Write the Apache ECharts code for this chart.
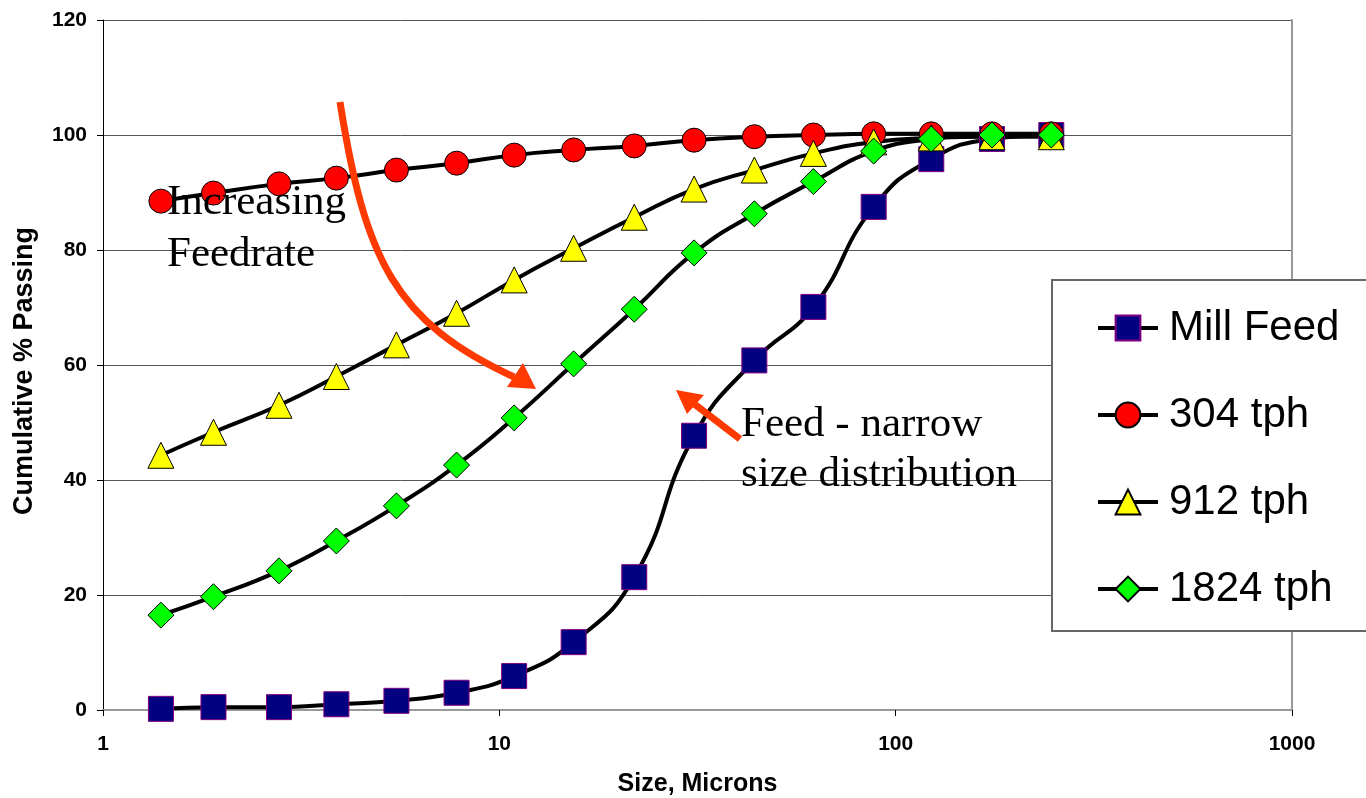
<!DOCTYPE html>
<html>
<head>
<meta charset="utf-8">
<script src="https://cdn.jsdelivr.net/npm/echarts@6/dist/echarts.min.js"></script>
<style>
html,body{margin:0;padding:0;background:#fff;overflow:hidden;}
#chart{width:1366px;height:798px;}
</style>
</head>
<body>
<div id="chart"></div>
<script>
// ---- data ----
const sizes = [1.4, 1.9, 2.78, 3.88, 5.5, 7.8, 10.9, 15.4, 21.9, 31, 44, 62, 88, 123, 175, 247];
const millFeed = [0.2, 0.5, 0.5, 1.0, 1.6, 3.0, 5.9, 11.8, 23.1, 47.7, 60.8, 70.1, 87.5, 95.8, 99.3, 100];
const tph304   = [88.5, 89.9, 91.5, 92.5, 93.9, 95.1, 96.5, 97.4, 98.1, 99.1, 99.7, 100, 100.2, 100.2, 100.2, 100.2];
const tph912   = [44.3, 48.3, 53.0, 58.0, 63.5, 69.0, 74.8, 80.3, 85.7, 90.6, 93.9, 96.8, 98.8, 99.5, 99.7, 99.7];
const tph1824  = [16.5, 19.7, 24.2, 29.4, 35.5, 42.6, 50.8, 60.2, 69.7, 79.5, 86.3, 91.9, 97.2, 99.3, 100, 100];
const seriesNames = ['Mill Feed', '304 tph', '912 tph', '1824 tph'];
const yTicks = {min: 0, max: 120, interval: 20};
const xRange = {min: 1, max: 1000};

const pair = (ys) => sizes.map((x, i) => [x, ys[i]]);

const sansBold = {fontFamily: 'Liberation Sans, Arial, sans-serif', fontWeight: 'bold', color: '#000'};
const serifFont = '43px "Liberation Serif", "Times New Roman", serif';
const arrowColor = '#FF3A00';

const lineBase = {
  type: 'line', smooth: 0.5, xAxisIndex: 0, yAxisIndex: 0,
  lineStyle: {color: '#000', width: 4}, emphasis: {disabled: true},
  animation: false
};

const chart = echarts.init(document.getElementById('chart'));
chart.setOption({
  animation: false,
  backgroundColor: '#fff',
  grid: {left: 103, right: 74, top: 20, bottom: 88, containLabel: false, outerBoundsMode: 'none'},
  xAxis: [{
    type: 'log', logBase: 10, min: xRange.min, max: xRange.max,
    axisLine: {show: true, lineStyle: {color: '#000', width: 1}},
    axisTick: {show: true, length: 6, lineStyle: {color: '#000'}},
    minorTick: {show: false},
    splitLine: {show: false},
    axisLabel: Object.assign({fontSize: 21, margin: 24, formatter: (v) => String(Math.round(v))}, sansBold),
    name: 'Size, Microns', nameLocation: 'middle', nameGap: 62,
    nameTextStyle: Object.assign({fontSize: 25}, sansBold)
  }, {
    type: 'log', logBase: 10, min: xRange.min, max: xRange.max, position: 'top',
    axisLine: {show: true, lineStyle: {color: '#999', width: 2}},
    axisTick: {show: false}, axisLabel: {show: false}, splitLine: {show: false}
  }],
  yAxis: [{
    type: 'value', min: yTicks.min, max: yTicks.max, interval: yTicks.interval,
    axisLine: {show: true, lineStyle: {color: '#000', width: 1}},
    axisTick: {show: true, length: 6, lineStyle: {color: '#000'}},
    splitLine: {show: true, lineStyle: {color: '#555', width: 1}},
    axisLabel: Object.assign({fontSize: 21, margin: 16}, sansBold),
    name: 'Cumulative % Passing', nameLocation: 'middle', nameGap: 65,
    nameTextStyle: Object.assign({fontSize: 27, padding: [0, 12, 0, 0]}, sansBold)
  }, {
    type: 'value', min: yTicks.min, max: yTicks.max, interval: yTicks.interval, position: 'right',
    axisLine: {show: true, lineStyle: {color: '#999', width: 2}},
    axisTick: {show: false}, axisLabel: {show: false}, splitLine: {show: false}
  }],
  legend: {
    orient: 'vertical', left: 1052, top: 280,
    padding: [27, 80, 21, 44],
    itemGap: 45, itemWidth: 60, itemHeight: 31,
    backgroundColor: '#fff', borderColor: '#666', borderWidth: 2,
    lineStyle: {color: '#000', width: 4},
    textStyle: {fontFamily: 'Liberation Sans, Arial, sans-serif', fontSize: 42, color: '#000', padding: [0, 0, 0, 6]},
    data: seriesNames
  },
  series: [
    Object.assign({}, lineBase, {
      name: seriesNames[0], data: pair(millFeed), symbol: 'rect', symbolSize: 25,
      itemStyle: {color: '#000080', borderColor: '#800080', borderWidth: 1}
    }),
    Object.assign({}, lineBase, {
      name: seriesNames[1], data: pair(tph304), symbol: 'circle', symbolSize: 24,
      itemStyle: {color: '#FF0000', borderColor: '#000', borderWidth: 1}
    }),
    Object.assign({}, lineBase, {
      name: seriesNames[2], data: pair(tph912), symbol: 'triangle', symbolSize: 26,
      itemStyle: {color: '#FFFF00', borderColor: '#000', borderWidth: 1}
    }),
    Object.assign({}, lineBase, {
      name: seriesNames[3], data: pair(tph1824), symbol: 'diamond', symbolSize: 26,
      itemStyle: {color: '#00FF00', borderColor: '#000', borderWidth: 1}
    })
  ],
  graphic: [
    {type: 'bezierCurve', z: 100, silent: true,
     shape: {x1: 340, y1: 102, cpx1: 365, cpy1: 260, cpx2: 395, cpy2: 322, x2: 514, y2: 377},
     style: {stroke: arrowColor, lineWidth: 7, fill: null}},
    {type: 'polygon', z: 100, silent: true,
     shape: {points: [[536, 389], [507, 387], [523, 363]]},
     style: {fill: arrowColor}},
    {type: 'line', z: 100, silent: true,
     shape: {x1: 740, y1: 439, x2: 693, y2: 403},
     style: {stroke: arrowColor, lineWidth: 7}},
    {type: 'polygon', z: 100, silent: true,
     shape: {points: [[676, 390], [687, 414], [704, 395]]},
     style: {fill: arrowColor}},
    {type: 'text', z: 100, silent: true, x: 167, y: 203,
     style: {text: 'Increasing', font: serifFont, fill: '#000', verticalAlign: 'middle', align: 'left'}},
    {type: 'text', z: 100, silent: true, x: 167, y: 255,
     style: {text: 'Feedrate', font: serifFont, fill: '#000', verticalAlign: 'middle', align: 'left'}},
    {type: 'text', z: 100, silent: true, x: 741, y: 425,
     style: {text: 'Feed - narrow', font: serifFont, fill: '#000', verticalAlign: 'middle', align: 'left'}},
    {type: 'text', z: 100, silent: true, x: 741, y: 475,
     style: {text: 'size distribution', font: serifFont, fill: '#000', verticalAlign: 'middle', align: 'left'}}
  ]
});
</script>
</body>
</html>
